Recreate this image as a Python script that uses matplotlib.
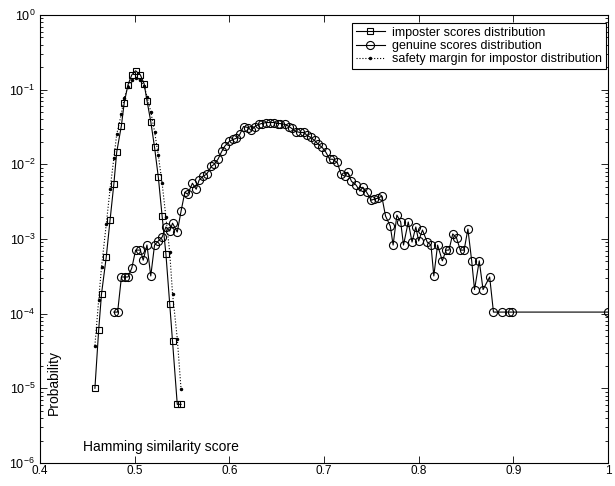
import matplotlib.pyplot as plt
from matplotlib.ticker import LogLocator, NullFormatter

plt.rcParams['font.family'] = ['Liberation Sans', 'DejaVu Sans']

# imposter scores distribution
imp_x = [0.458, 0.462, 0.465, 0.470, 0.474, 0.478, 0.481, 0.486, 0.489, 0.493,
         0.497, 0.501, 0.506, 0.510, 0.513, 0.517, 0.521, 0.525, 0.529, 0.533,
         0.537, 0.540, 0.545, 0.549]
imp_y = [1.0e-5, 6.1e-5, 1.85e-4, 5.75e-4, 1.79e-3, 5.41e-3, 1.45e-2, 3.31e-2, 6.71e-2, 0.117,
         0.158, 0.179, 0.158, 0.120, 0.0713, 0.0374, 0.0169, 6.71e-3, 2.03e-3, 6.3e-4,
         1.36e-4, 4.24e-5, 6.1e-6, 6.1e-6]

# safety margin for impostor distribution (same score bins)
safe_y = [3.74e-5, 1.54e-4, 4.24e-4, 1.58e-3, 4.64e-3, 1.2e-2, 2.51e-2, 4.79e-2, 7.82e-2, 0.110,
          0.136, 0.145, 0.136, 0.113, 0.0807, 0.0509, 0.0275, 0.0132, 5.58e-3, 1.96e-3,
          6.71e-4, 1.85e-4, 4.64e-5, 9.7e-6]

# genuine scores distribution
gen_x = [0.478, 0.482, 0.486, 0.490, 0.493, 0.497, 0.501, 0.506, 0.509, 0.513,
         0.517, 0.521, 0.525, 0.529, 0.533, 0.537, 0.540, 0.545, 0.549, 0.553,
         0.556, 0.561, 0.565, 0.568, 0.572, 0.576, 0.581, 0.584, 0.588, 0.592,
         0.595, 0.600, 0.604, 0.607, 0.611, 0.615, 0.620, 0.623, 0.627, 0.631,
         0.634, 0.639, 0.643, 0.647, 0.651, 0.654, 0.659, 0.663, 0.666, 0.670,
         0.675, 0.679, 0.682, 0.686, 0.690, 0.694, 0.698, 0.702, 0.706, 0.709,
         0.714, 0.718, 0.722, 0.725, 0.729, 0.734, 0.738, 0.741, 0.745, 0.750,
         0.753, 0.757, 0.761, 0.765, 0.770, 0.773, 0.777, 0.781, 0.784, 0.789,
         0.793, 0.797, 0.800, 0.804, 0.809, 0.813, 0.816, 0.820, 0.825, 0.829,
         0.832, 0.836, 0.840, 0.844, 0.848, 0.852, 0.856, 0.859, 0.864, 0.868,
         0.875, 0.879, 0.888, 0.895, 0.899, 1.0]
gen_y = [1.05e-4, 1.05e-4, 3.1e-4, 3.1e-4, 3.1e-4, 4.1e-4, 7.1e-4, 7.1e-4, 5.2e-4, 8.3e-4,
         3.2e-4, 8.3e-4, 9.4e-4, 1.06e-3, 1.45e-3, 1.28e-3, 1.63e-3, 1.24e-3, 2.36e-3, 4.23e-3,
         3.98e-3, 5.58e-3, 4.64e-3, 6.12e-3, 6.92e-3, 7.36e-3, 9.4e-3, 1.0e-2, 1.17e-2, 1.49e-2,
         1.74e-2, 2.03e-2, 2.16e-2, 2.22e-2, 2.51e-2, 3.21e-2, 3.11e-2, 2.84e-2, 3.21e-2, 3.42e-2,
         3.52e-2, 3.63e-2, 3.63e-2, 3.63e-2, 3.52e-2, 3.52e-2, 3.42e-2, 3.21e-2, 3.02e-2, 2.75e-2,
         2.67e-2, 2.67e-2, 2.44e-2, 2.29e-2, 2.09e-2, 1.85e-2, 1.69e-2, 1.45e-2, 1.17e-2, 1.17e-2,
         1.06e-2, 7.36e-3, 6.92e-3, 7.83e-3, 5.93e-3, 5.25e-3, 4.37e-3, 4.94e-3, 4.23e-3, 3.31e-3,
         3.42e-3, 3.52e-3, 3.75e-3, 2.03e-3, 1.49e-3, 8.3e-4, 2.09e-3, 1.69e-3, 8.3e-4, 1.69e-3,
         9.1e-4, 1.45e-3, 9.4e-4, 1.32e-3, 9.1e-4, 8.3e-4, 3.2e-4, 8.3e-4, 5.1e-4, 7.1e-4,
         7.1e-4, 1.17e-3, 1.03e-3, 7.1e-4, 7.1e-4, 1.36e-3, 5.1e-4, 2.1e-4, 5.1e-4, 2.1e-4,
         3.1e-4, 1.05e-4, 1.05e-4, 1.05e-4, 1.05e-4, 1.05e-4]

fig = plt.figure(figsize=(6.15, 4.86), dpi=100)
ax = fig.add_axes([40 / 615, 1 - 463 / 486, 568 / 615, 448 / 486])

ax.semilogy(imp_x, imp_y, 'k-', marker='s', ms=4.5, mfc='none', mew=0.8, lw=0.8,
            label='imposter scores distribution')
ax.semilogy(gen_x, gen_y, 'k-', marker='o', ms=5.8, mfc='none', mew=0.8, lw=0.8,
            label='genuine scores distribution')
ax.semilogy(imp_x, safe_y, 'k:', marker='.', ms=3, lw=0.8,
            label='safety margin for impostor distribution')

ax.set_xlim(0.4, 1.0)
ax.set_ylim(1e-6, 1)
ax.set_xticks([0.4, 0.5, 0.6, 0.7, 0.8, 0.9, 1.0])
ax.set_xticklabels(['0.4', '0.5', '0.6', '0.7', '0.8', '0.9', '1'])
ax.yaxis.set_major_locator(LogLocator(base=10, numticks=10))
ax.yaxis.set_minor_locator(LogLocator(base=10, subs=range(2, 10), numticks=10))
ax.yaxis.set_minor_formatter(NullFormatter())
ax.tick_params(which='both', direction='in', top=True, right=True, labelsize=9, width=0.6)
ax.tick_params(axis='x', pad=1.5, labelsize=8.5)
ax.tick_params(which='major', length=5)
ax.tick_params(which='minor', length=2.5)
for s in ax.spines.values():
    s.set_linewidth(0.8)

ax.text(0.025, 0.18, 'Probability', transform=ax.transAxes, rotation=90,
        ha='center', va='center', fontsize=10)
ax.text(0.076, 0.036, 'Hamming similarity score', transform=ax.transAxes,
        ha='left', va='center', fontsize=10)

leg = ax.legend(loc='upper right', bbox_to_anchor=(0.9965, 0.982), borderaxespad=0,
                fontsize=9, handlelength=2.3, handletextpad=0.6, labelspacing=0.1,
                borderpad=0.3, fancybox=False, framealpha=1)
leg.get_frame().set_edgecolor('black')
leg.get_frame().set_linewidth(0.8)

fig.savefig('out.png', dpi=100)
